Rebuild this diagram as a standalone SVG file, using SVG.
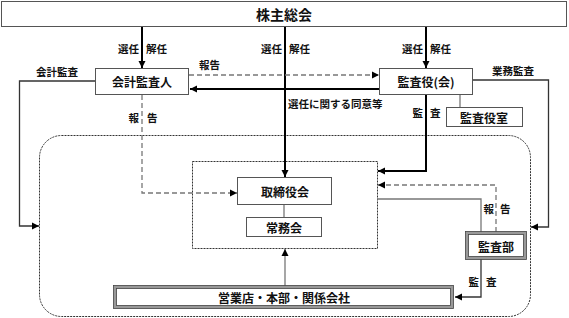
<svg xmlns="http://www.w3.org/2000/svg" width="569" height="318" viewBox="0 0 569 318">
<defs>
<marker id="ah" markerUnits="userSpaceOnUse" markerWidth="8" markerHeight="8" refX="7" refY="4" orient="auto">
<path d="M0,0.5 L7,4 L0,7.5 z" fill="#000"/>
</marker>
</defs>
<style>
text{font-family:"Noto Sans CJK JP","Noto Sans CJK SC",sans-serif;font-weight:bold;fill:#111;dominant-baseline:central}
.box{fill:#fff;stroke:#555;stroke-width:1}
.t12{font-size:12px;text-anchor:middle}
.lb{font-size:10.5px}
.thick{fill:none;stroke:#000;stroke-width:2}
.thin{fill:none;stroke:#333;stroke-width:1.3}
.gray{fill:none;stroke:#777;stroke-width:1.3}
.dash{fill:none;stroke:#777;stroke-width:1.3;stroke-dasharray:5,3}
.dot{fill:none;stroke:#333;stroke-width:1;stroke-dasharray:2,1}
.dbl{fill:#fff;stroke:#999;stroke-width:3}
.dbl2{fill:none;stroke:#444;stroke-width:0.8}
</style>
<g id="region">
<rect class="dot" x="39.5" y="135.5" width="491" height="181" rx="22" ry="22"/>
<rect class="dot" x="192.5" y="161.5" width="185" height="87"/>
</g>
<g id="connectors">
<line class="thick" x1="142" y1="27" x2="142" y2="68" marker-end="url(#ah)"/>
<line class="thick" x1="285" y1="27" x2="285" y2="177" marker-end="url(#ah)"/>
<line class="thick" x1="426" y1="27" x2="426" y2="68" marker-end="url(#ah)"/>
<line class="dash" x1="189" y1="75" x2="379" y2="75" marker-end="url(#ah)"/>
<line class="thick" x1="379" y1="89" x2="190" y2="89" marker-end="url(#ah)"/>
<path class="dash" d="M142,95 V193 H237" marker-end="url(#ah)"/>
<path class="thin" d="M95,81 H19.5 V226 H39" marker-end="url(#ah)"/>
<path class="thin" d="M473,80 H548.5 V227 H531" marker-end="url(#ah)"/>
<path class="thick" d="M426,95 V171 H378" marker-end="url(#ah)"/>
<line class="gray" x1="460" y1="95" x2="460" y2="107"/>
<path class="dash" d="M496,232 V185 H378" marker-end="url(#ah)"/>
<path class="gray" d="M481,232 V199 H377"/>
<path class="thin" d="M481,259 V297 H455" marker-end="url(#ah)"/>
<line class="gray" x1="285" y1="286" x2="285" y2="249" marker-end="url(#ah)"/>
<line class="gray" x1="284" y1="205" x2="284" y2="217"/>
</g>
<g id="labels">
<text class="lb" x="139" y="48" text-anchor="end">選任</text>
<text class="lb" x="146" y="48">解任</text>
<text class="lb" x="282" y="48" text-anchor="end">選任</text>
<text class="lb" x="289" y="48">解任</text>
<text class="lb" x="423" y="48" text-anchor="end">選任</text>
<text class="lb" x="430" y="48">解任</text>
<text class="lb" x="199" y="64">報告</text>
<text class="lb" x="36" y="71">会計監査</text>
<text class="lb" x="492" y="70">業務監査</text>
<text class="lb" x="288" y="103">選任に関する同意等</text>
<text class="lb" x="139" y="117" text-anchor="end">報</text>
<text class="lb" x="147" y="117">告</text>
<text class="lb" x="423" y="112" text-anchor="end">監</text>
<text class="lb" x="430" y="112">査</text>
<text class="lb" x="494" y="208" text-anchor="end">報</text>
<text class="lb" x="500" y="208">告</text>
<text class="lb" x="479" y="281" text-anchor="end">監</text>
<text class="lb" x="486" y="281">査</text>
</g>
<g id="shareholders">
<rect class="box" x="1.5" y="1.5" width="565" height="25"/>
<text x="284" y="14" font-size="14" text-anchor="middle">株主総会</text>
</g>
<g id="accountingAuditor">
<rect class="box" x="95.5" y="68.5" width="93" height="26"/>
<text class="t12" x="142" y="81.5">会計監査人</text>
</g>
<g id="auditors">
<rect class="box" x="379.5" y="68.5" width="93" height="26"/>
<text class="t12" x="426" y="81.5">監査役(会)</text>
</g>
<g id="auditorsOffice">
<rect class="box" x="446.5" y="107.5" width="76" height="19"/>
<text class="t12" x="484" y="117">監査役室</text>
</g>
<g id="board">
<rect class="box" x="237.5" y="177.5" width="94" height="27"/>
<text class="t12" x="285" y="191">取締役会</text>
</g>
<g id="executiveCommittee">
<rect class="box" x="246.5" y="217.5" width="75" height="19"/>
<text class="t12" x="284" y="227">常務会</text>
</g>
<g id="auditDept">
<rect class="dbl" x="467" y="233" width="58" height="25"/>
<rect class="dbl2" x="465.5" y="231.5" width="61" height="28"/>
<rect class="dbl2" x="468.5" y="234.5" width="55" height="22"/>
<text class="t12" x="496" y="246">監査部</text>
</g>
<g id="branches">
<rect class="dbl" x="115" y="287" width="337" height="20"/>
<rect class="dbl2" x="113.5" y="285.5" width="340" height="23"/>
<rect class="dbl2" x="116.5" y="288.5" width="334" height="17"/>
<text class="t12" x="284" y="297">営業店・本部・関係会社</text>
</g>
</svg>
